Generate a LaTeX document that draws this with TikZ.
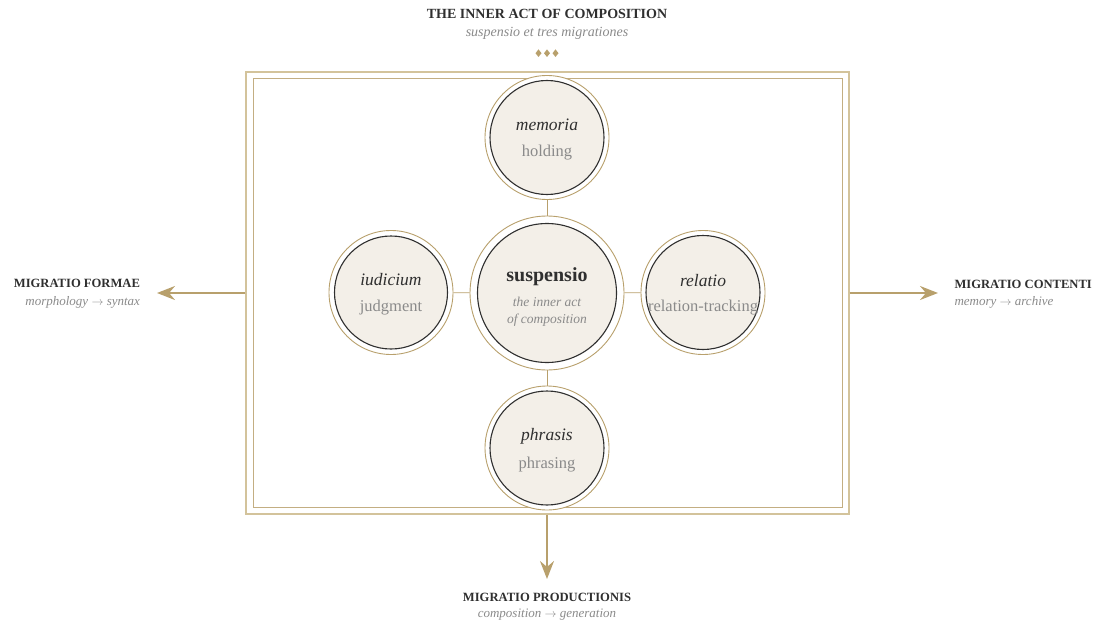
\documentclass[tikz,border=0pt]{standalone}
\usepackage{fontspec}
\setmainfont{Liberation Serif}
\usetikzlibrary{arrows.meta}

\definecolor{gold}{HTML}{B8A06C}
\definecolor{goldpale}{HTML}{D3C39B}
\definecolor{cream}{HTML}{F3EFE8}
\definecolor{ink}{HTML}{2F2F2F}
\definecolor{muted}{HTML}{8A8A8A}

\begin{document}
\begin{tikzpicture}[x=1pt,y=-1pt,
  ring/.style={circle, draw=gold, line width=0.9pt, fill=white, inner sep=0pt, minimum size=#1},
  core/.style={circle, draw=ink, line width=1.1pt, fill=cream, inner sep=0pt, minimum size=#1},
  head/.style={font=\fontsize{17.5}{20}\selectfont\itshape, text=ink, anchor=base},
  gloss/.style={font=\fontsize{16.5}{19}\selectfont, text=muted, anchor=base},
  link/.style={draw=gold, line width=0.7pt},
  flow/.style={draw=gold, line width=2.2pt, -{Stealth[length=18pt,width=14pt,inset=6pt]}},
  caption/.style={font=\bfseries\fontsize{12.6}{15}\selectfont, text=ink},
  subcaption/.style={font=\itshape\fontsize{13}{15}\selectfont, text=muted},
  framebox/.style={draw=#1, line width=1.2pt, inner sep=0pt, fill=none}
]
\useasboundingbox (0,0) rectangle (1097,623);

% heading
\node[caption, font=\bfseries\fontsize{14}{16}\selectfont, anchor=base] (title) at (547,19) {THE INNER ACT OF COMPOSITION};
\node[subcaption, font=\itshape\fontsize{14}{16}\selectfont, anchor=base] (subtitle) at (547,37) {suspensio et tres migrationes};
\foreach \cx in {538.5,547,555.5}
  \fill[gold] (\cx,49.4) -- (\cx+3,53.2) -- (\cx,57) -- (\cx-3,53.2) -- cycle;

% double frame
\node[framebox=goldpale, minimum width=603pt, minimum height=442pt] (outer) at (547.5,293) {};
\node[framebox=gold!85, line width=1pt, minimum width=589pt, minimum height=428pt] (inner) at (547.5,293) {};

% rings
\node[ring=124pt] (memR) at (547,137.5) {};
\node[ring=154pt] (susR) at (547,293) {};
\node[ring=124pt] (phrR) at (547,448) {};
\node[ring=124pt] (iudR) at (391,292.5) {};
\node[ring=124pt] (relR) at (703,292.5) {};

% links between the rings
\draw[link] (memR) -- (susR);
\draw[link] (susR) -- (phrR);
\draw[link] (iudR) -- (susR);
\draw[link] (susR) -- (relR);

% cores
\node[core=114pt] (mem) at (memR.center) {};
\node[core=139pt] (sus) at (susR.center) {};
\node[core=114pt] (phr) at (phrR.center) {};
\node[core=113pt] (iud) at (iudR.center) {};
\node[core=114pt] (rel) at (relR.center) {};

% core texts
\node[head] (memH) at (547,130.5) {memoria};
\node[gloss] (memG) at (547,157) {holding};

\node[head, font=\bfseries\fontsize{20}{23}\selectfont] (susH) at (547,281) {suspensio};
\node[subcaption, font=\itshape\fontsize{13.5}{15}\selectfont, anchor=base] (susG1) at (547,306) {the inner act};
\node[subcaption, font=\itshape\fontsize{13.5}{15}\selectfont, anchor=base] (susG2) at (547,323) {of composition};

\node[head] (phrH) at (547,440) {phrasis};
\node[gloss] (phrG) at (547,468.5) {phrasing};

\node[head] (iudH) at (391,285.5) {iudicium};
\node[gloss] (iudG) at (391,311.5) {judgment};

\node[head] (relH) at (703,286) {relatio};
\node[gloss] (relG) at (703,311.5) {relation-tracking};

% migrations
\coordinate (tipW) at (157,293);
\coordinate (tipE) at (938,293);
\coordinate (tipS) at (547,579);
\draw[flow] (outer.west) -- (tipW);
\draw[flow] (outer.east) -- (tipE);
\draw[flow] (susR |- outer.south) -- (tipS);

\node[caption, anchor=base east] (formae) at (143.5,287.5) {MIGRATIO FORMAE};
\node[subcaption, anchor=base east] (formaeG) at (143.5,305) {morphology $\rightarrow$ syntax};

\node[caption, anchor=base west] (contenti) at (951,288) {MIGRATIO CONTENTI};
\node[subcaption, anchor=base west] (contentiG) at (951,305) {memory $\rightarrow$ archive};

\node[caption, anchor=base] (productio) at (547,601.5) {MIGRATIO PRODUCTIONIS};
\node[subcaption, anchor=base] (productioG) at (547,617) {composition $\rightarrow$ generation};
\end{tikzpicture}
\end{document}
